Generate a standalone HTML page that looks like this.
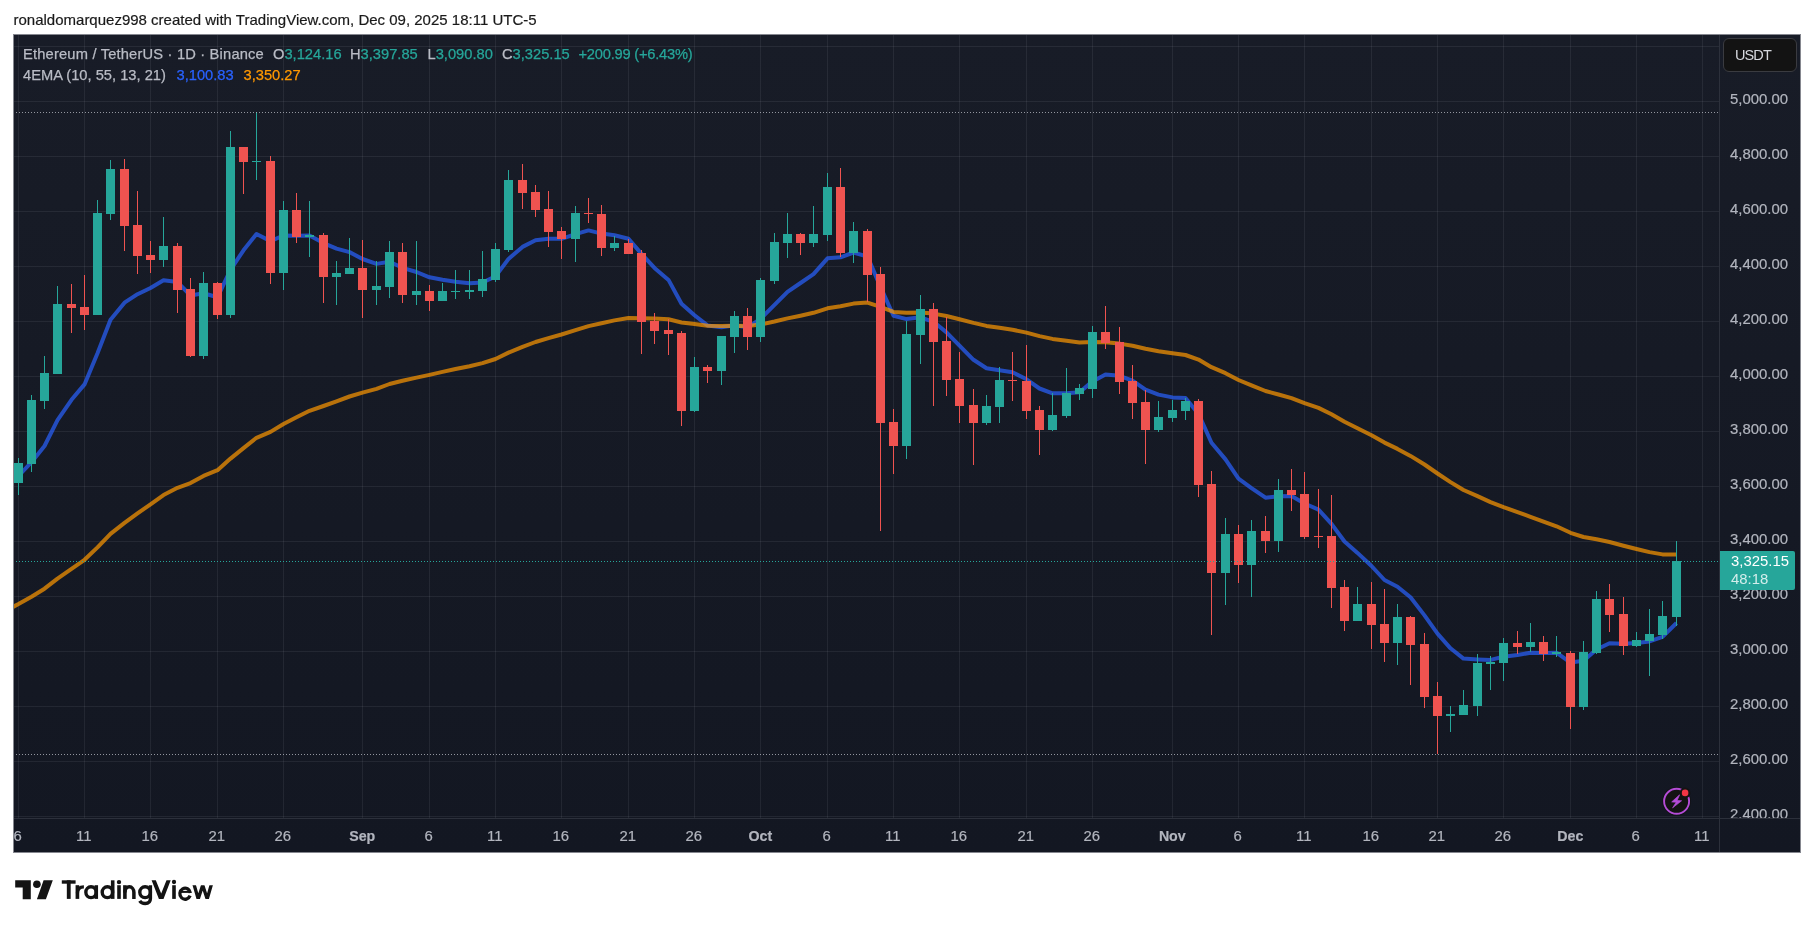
<!DOCTYPE html>
<html><head><meta charset="utf-8"><title>ETHUSDT</title>
<style>
html,body{margin:0;padding:0;background:#fff;}
body{width:1814px;height:928px;position:relative;overflow:hidden;font-family:"Liberation Sans",sans-serif;}
.abs{position:absolute;white-space:nowrap;line-height:1;}
.txt{will-change:transform;}
#chart{position:absolute;left:13px;top:34px;width:1788px;height:819px;box-sizing:border-box;border:1px solid #85878f;background:linear-gradient(#181c27,#131722);}
#svg{position:absolute;left:0;top:0;}
.hdr{left:13.5px;top:12px;font-size:15px;color:#1a1a1a;-webkit-text-stroke:0.2px;}
.lg{font-size:14.7px;color:#b9bcc5;-webkit-text-stroke:0.25px;}
.pl{font-size:14.9px;color:#b2b5be;left:1730px;-webkit-text-stroke:0.2px;}
.tl{font-size:14.9px;color:#b2b5be;-webkit-text-stroke:0.2px;top:829px;transform:translateX(-50%);}
.tl.b{font-weight:700;font-size:14.2px;margin-left:0.6px;margin-top:0.4px;}
.g{color:#26a69a;}
</style></head><body>
<div id="chart"></div>
<svg id="svg" width="1814" height="928" viewBox="0 0 1814 928" shape-rendering="auto">
<g fill="rgba(240,243,250,0.07)"><rect x="14" y="46" width="1705" height="1"/><rect x="14" y="101" width="1705" height="1"/><rect x="14" y="156" width="1705" height="1"/><rect x="14" y="211" width="1705" height="1"/><rect x="14" y="266" width="1705" height="1"/><rect x="14" y="321" width="1705" height="1"/><rect x="14" y="376" width="1705" height="1"/><rect x="14" y="431" width="1705" height="1"/><rect x="14" y="486" width="1705" height="1"/><rect x="14" y="541" width="1705" height="1"/><rect x="14" y="596" width="1705" height="1"/><rect x="14" y="651" width="1705" height="1"/><rect x="14" y="706" width="1705" height="1"/><rect x="14" y="761" width="1705" height="1"/><rect x="14" y="816" width="1705" height="1"/><rect x="18" y="35" width="1" height="783"/><rect x="84" y="35" width="1" height="783"/><rect x="150" y="35" width="1" height="783"/><rect x="217" y="35" width="1" height="783"/><rect x="283" y="35" width="1" height="783"/><rect x="362" y="35" width="1" height="783"/><rect x="429" y="35" width="1" height="783"/><rect x="495" y="35" width="1" height="783"/><rect x="561" y="35" width="1" height="783"/><rect x="628" y="35" width="1" height="783"/><rect x="694" y="35" width="1" height="783"/><rect x="760" y="35" width="1" height="783"/><rect x="827" y="35" width="1" height="783"/><rect x="893" y="35" width="1" height="783"/><rect x="959" y="35" width="1" height="783"/><rect x="1026" y="35" width="1" height="783"/><rect x="1092" y="35" width="1" height="783"/><rect x="1172" y="35" width="1" height="783"/><rect x="1238" y="35" width="1" height="783"/><rect x="1304" y="35" width="1" height="783"/><rect x="1371" y="35" width="1" height="783"/><rect x="1437" y="35" width="1" height="783"/><rect x="1503" y="35" width="1" height="783"/><rect x="1570" y="35" width="1" height="783"/><rect x="1636" y="35" width="1" height="783"/><rect x="1702" y="35" width="1" height="783"/></g>
<clipPath id="cp"><rect x="14" y="35" width="1705" height="783"/></clipPath>
<g clip-path="url(#cp)">
<path d="M4.7,489.8 L18.5,476.0 L31.5,462.2 L44.5,446.0 L57.5,420.2 L71.5,399.8 L84.5,384.4 L97.5,353.2 L110.5,319.7 L124.5,302.7 L137.5,294.2 L150.5,288.0 L163.5,280.3 L177.5,282.1 L190.5,295.5 L203.5,293.3 L217.5,297.2 L230.5,269.9 L243.5,250.3 L256.5,234.0 L270.5,241.1 L283.5,235.5 L296.5,235.7 L309.5,235.6 L323.5,243.1 L336.5,248.6 L349.5,252.1 L362.5,259.0 L376.5,263.9 L389.5,261.7 L402.5,267.8 L416.5,272.0 L429.5,277.3 L442.5,279.8 L455.5,281.8 L469.5,283.3 L482.5,282.5 L495.5,276.4 L508.5,258.9 L522.5,246.9 L535.5,240.2 L548.5,238.7 L561.5,238.8 L575.5,234.1 L588.5,230.4 L601.5,233.6 L614.5,235.3 L628.5,238.7 L641.5,253.9 L654.5,267.9 L668.5,279.9 L681.5,303.7 L694.5,315.2 L707.5,325.4 L721.5,327.3 L734.5,325.3 L747.5,327.4 L760.5,318.8 L774.5,304.8 L787.5,291.9 L800.5,283.0 L813.5,274.1 L827.5,258.3 L840.5,257.3 L853.5,252.5 L867.5,256.6 L880.5,286.9 L893.5,315.8 L906.5,319.1 L920.5,317.3 L933.5,321.8 L946.5,332.4 L959.5,345.7 L973.5,359.8 L986.5,368.2 L999.5,370.3 L1012.5,372.3 L1026.5,379.3 L1039.5,388.5 L1052.5,393.3 L1066.5,393.3 L1079.5,392.3 L1092.5,381.4 L1105.5,374.4 L1119.5,375.8 L1132.5,380.7 L1145.5,389.7 L1158.5,394.6 L1172.5,397.4 L1185.5,398.1 L1198.5,413.9 L1211.5,442.8 L1225.5,459.4 L1238.5,478.6 L1251.5,488.1 L1265.5,497.7 L1278.5,496.3 L1291.5,496.1 L1304.5,503.5 L1318.5,509.6 L1331.5,523.9 L1344.5,541.5 L1357.5,552.9 L1371.5,566.0 L1384.5,580.0 L1397.5,586.7 L1410.5,597.3 L1424.5,615.4 L1437.5,633.7 L1450.5,648.3 L1463.5,658.6 L1477.5,659.4 L1490.5,659.9 L1503.5,656.8 L1517.5,655.0 L1530.5,652.7 L1543.5,652.9 L1556.5,652.7 L1570.5,662.6 L1583.5,660.7 L1596.5,649.5 L1609.5,643.2 L1623.5,643.7 L1636.5,643.0 L1649.5,641.4 L1662.5,636.8 L1676.5,623.0" fill="none" stroke="#2962ff" stroke-width="4" stroke-opacity="0.7" stroke-linejoin="round" stroke-linecap="butt"/>
<path d="M4.7,611.3 L18.5,604.0 L31.5,596.7 L44.5,588.7 L57.5,578.6 L71.5,568.9 L84.5,559.8 L97.5,547.4 L110.5,533.9 L124.5,522.9 L137.5,513.4 L150.5,504.3 L163.5,495.1 L177.5,487.8 L190.5,483.1 L203.5,475.9 L217.5,470.2 L230.5,458.6 L243.5,448.1 L256.5,437.8 L270.5,431.9 L283.5,424.0 L296.5,417.3 L309.5,410.8 L323.5,406.0 L336.5,401.3 L349.5,396.5 L362.5,392.7 L376.5,388.9 L389.5,384.0 L402.5,380.8 L416.5,377.6 L429.5,374.9 L442.5,371.9 L455.5,369.0 L469.5,366.2 L482.5,363.1 L495.5,359.0 L508.5,352.6 L522.5,346.9 L535.5,342.0 L548.5,338.1 L561.5,334.5 L575.5,330.2 L588.5,326.1 L601.5,323.3 L614.5,320.4 L628.5,318.0 L641.5,318.2 L654.5,318.6 L668.5,319.2 L681.5,322.5 L694.5,324.0 L707.5,325.7 L721.5,326.1 L734.5,325.7 L747.5,326.1 L760.5,324.5 L774.5,321.5 L787.5,318.4 L800.5,315.7 L813.5,312.8 L827.5,308.3 L840.5,306.3 L853.5,303.6 L867.5,302.6 L880.5,306.9 L893.5,311.9 L906.5,312.7 L920.5,312.5 L933.5,313.6 L946.5,316.0 L959.5,319.2 L973.5,322.9 L986.5,325.9 L999.5,327.8 L1012.5,329.7 L1026.5,332.6 L1039.5,336.1 L1052.5,338.9 L1066.5,340.8 L1079.5,342.5 L1092.5,342.1 L1105.5,342.2 L1119.5,343.6 L1132.5,345.7 L1145.5,348.7 L1158.5,351.2 L1172.5,353.3 L1185.5,355.0 L1198.5,359.6 L1211.5,367.2 L1225.5,373.2 L1238.5,380.0 L1251.5,385.4 L1265.5,391.0 L1278.5,394.5 L1291.5,398.1 L1304.5,403.1 L1318.5,407.9 L1331.5,414.3 L1344.5,421.7 L1357.5,428.2 L1371.5,435.2 L1384.5,442.6 L1397.5,448.9 L1410.5,455.9 L1424.5,464.5 L1437.5,473.5 L1450.5,482.1 L1463.5,490.0 L1477.5,496.2 L1490.5,502.1 L1503.5,507.1 L1517.5,512.1 L1530.5,516.8 L1543.5,521.7 L1556.5,526.3 L1570.5,532.8 L1583.5,537.0 L1596.5,539.3 L1609.5,542.0 L1623.5,545.7 L1636.5,549.0 L1649.5,552.1 L1662.5,554.4 L1676.5,554.6" fill="none" stroke="#ff9800" stroke-width="4" stroke-opacity="0.7" stroke-linejoin="round" stroke-linecap="butt"/>
<rect x="18" y="458" width="1" height="37" fill="#26a69a"/>
<rect x="14" y="463" width="9" height="20" fill="#26a69a"/>
<rect x="31" y="395" width="1" height="77" fill="#26a69a"/>
<rect x="27" y="400" width="9" height="64" fill="#26a69a"/>
<rect x="44" y="356" width="1" height="53" fill="#26a69a"/>
<rect x="40" y="373" width="9" height="28" fill="#26a69a"/>
<rect x="57" y="286" width="1" height="88" fill="#26a69a"/>
<rect x="53" y="304" width="9" height="70" fill="#26a69a"/>
<rect x="71" y="284" width="1" height="49" fill="#ef5350"/>
<rect x="67" y="304" width="9" height="4" fill="#ef5350"/>
<rect x="84" y="275" width="1" height="55" fill="#ef5350"/>
<rect x="80" y="307" width="9" height="8" fill="#ef5350"/>
<rect x="97" y="200" width="1" height="115" fill="#26a69a"/>
<rect x="93" y="213" width="9" height="102" fill="#26a69a"/>
<rect x="110" y="160" width="1" height="60" fill="#26a69a"/>
<rect x="106" y="169" width="9" height="45" fill="#26a69a"/>
<rect x="124" y="159" width="1" height="92" fill="#ef5350"/>
<rect x="120" y="169" width="9" height="57" fill="#ef5350"/>
<rect x="137" y="191" width="1" height="83" fill="#ef5350"/>
<rect x="133" y="225" width="9" height="31" fill="#ef5350"/>
<rect x="150" y="241" width="1" height="32" fill="#ef5350"/>
<rect x="146" y="255" width="9" height="5" fill="#ef5350"/>
<rect x="163" y="217" width="1" height="50" fill="#26a69a"/>
<rect x="159" y="246" width="9" height="14" fill="#26a69a"/>
<rect x="177" y="243" width="1" height="70" fill="#ef5350"/>
<rect x="173" y="246" width="9" height="44" fill="#ef5350"/>
<rect x="190" y="278" width="1" height="79" fill="#ef5350"/>
<rect x="186" y="289" width="9" height="67" fill="#ef5350"/>
<rect x="203" y="272" width="1" height="87" fill="#26a69a"/>
<rect x="199" y="283" width="9" height="73" fill="#26a69a"/>
<rect x="217" y="282" width="1" height="37" fill="#ef5350"/>
<rect x="213" y="283" width="9" height="32" fill="#ef5350"/>
<rect x="230" y="131" width="1" height="187" fill="#26a69a"/>
<rect x="226" y="147" width="9" height="168" fill="#26a69a"/>
<rect x="243" y="147" width="1" height="47" fill="#ef5350"/>
<rect x="239" y="147" width="9" height="15" fill="#ef5350"/>
<rect x="256" y="112" width="1" height="68" fill="#26a69a"/>
<rect x="252" y="161" width="9" height="1" fill="#26a69a"/>
<rect x="270" y="156" width="1" height="128" fill="#ef5350"/>
<rect x="266" y="161" width="9" height="112" fill="#ef5350"/>
<rect x="283" y="201" width="1" height="89" fill="#26a69a"/>
<rect x="279" y="210" width="9" height="63" fill="#26a69a"/>
<rect x="296" y="193" width="1" height="50" fill="#ef5350"/>
<rect x="292" y="210" width="9" height="27" fill="#ef5350"/>
<rect x="309" y="201" width="1" height="56" fill="#26a69a"/>
<rect x="305" y="235" width="9" height="2" fill="#26a69a"/>
<rect x="323" y="233" width="1" height="70" fill="#ef5350"/>
<rect x="319" y="235" width="9" height="42" fill="#ef5350"/>
<rect x="336" y="261" width="1" height="44" fill="#26a69a"/>
<rect x="332" y="273" width="9" height="4" fill="#26a69a"/>
<rect x="349" y="238" width="1" height="36" fill="#26a69a"/>
<rect x="345" y="268" width="9" height="6" fill="#26a69a"/>
<rect x="362" y="240" width="1" height="78" fill="#ef5350"/>
<rect x="358" y="268" width="9" height="22" fill="#ef5350"/>
<rect x="376" y="261" width="1" height="44" fill="#26a69a"/>
<rect x="372" y="286" width="9" height="4" fill="#26a69a"/>
<rect x="389" y="241" width="1" height="57" fill="#26a69a"/>
<rect x="385" y="252" width="9" height="35" fill="#26a69a"/>
<rect x="402" y="243" width="1" height="60" fill="#ef5350"/>
<rect x="398" y="252" width="9" height="43" fill="#ef5350"/>
<rect x="416" y="241" width="1" height="64" fill="#26a69a"/>
<rect x="412" y="291" width="9" height="4" fill="#26a69a"/>
<rect x="429" y="285" width="1" height="26" fill="#ef5350"/>
<rect x="425" y="291" width="9" height="10" fill="#ef5350"/>
<rect x="442" y="283" width="1" height="18" fill="#26a69a"/>
<rect x="438" y="291" width="9" height="10" fill="#26a69a"/>
<rect x="455" y="270" width="1" height="29" fill="#26a69a"/>
<rect x="451" y="291" width="9" height="1" fill="#26a69a"/>
<rect x="469" y="270" width="1" height="29" fill="#26a69a"/>
<rect x="465" y="290" width="9" height="2" fill="#26a69a"/>
<rect x="482" y="251" width="1" height="46" fill="#26a69a"/>
<rect x="478" y="279" width="9" height="12" fill="#26a69a"/>
<rect x="495" y="243" width="1" height="39" fill="#26a69a"/>
<rect x="491" y="249" width="9" height="31" fill="#26a69a"/>
<rect x="508" y="170" width="1" height="82" fill="#26a69a"/>
<rect x="504" y="180" width="9" height="70" fill="#26a69a"/>
<rect x="522" y="164" width="1" height="45" fill="#ef5350"/>
<rect x="518" y="180" width="9" height="13" fill="#ef5350"/>
<rect x="535" y="185" width="1" height="32" fill="#ef5350"/>
<rect x="531" y="192" width="9" height="18" fill="#ef5350"/>
<rect x="548" y="191" width="1" height="56" fill="#ef5350"/>
<rect x="544" y="209" width="9" height="23" fill="#ef5350"/>
<rect x="561" y="227" width="1" height="32" fill="#ef5350"/>
<rect x="557" y="231" width="9" height="8" fill="#ef5350"/>
<rect x="575" y="206" width="1" height="56" fill="#26a69a"/>
<rect x="571" y="213" width="9" height="26" fill="#26a69a"/>
<rect x="588" y="198" width="1" height="25" fill="#ef5350"/>
<rect x="584" y="213" width="9" height="1" fill="#ef5350"/>
<rect x="601" y="205" width="1" height="51" fill="#ef5350"/>
<rect x="597" y="214" width="9" height="34" fill="#ef5350"/>
<rect x="614" y="236" width="1" height="15" fill="#26a69a"/>
<rect x="610" y="243" width="9" height="5" fill="#26a69a"/>
<rect x="628" y="239" width="1" height="15" fill="#ef5350"/>
<rect x="624" y="243" width="9" height="11" fill="#ef5350"/>
<rect x="641" y="250" width="1" height="104" fill="#ef5350"/>
<rect x="637" y="253" width="9" height="69" fill="#ef5350"/>
<rect x="654" y="313" width="1" height="31" fill="#ef5350"/>
<rect x="650" y="321" width="9" height="10" fill="#ef5350"/>
<rect x="668" y="319" width="1" height="36" fill="#ef5350"/>
<rect x="664" y="330" width="9" height="4" fill="#ef5350"/>
<rect x="681" y="331" width="1" height="95" fill="#ef5350"/>
<rect x="677" y="333" width="9" height="78" fill="#ef5350"/>
<rect x="694" y="357" width="1" height="55" fill="#26a69a"/>
<rect x="690" y="367" width="9" height="44" fill="#26a69a"/>
<rect x="707" y="365" width="1" height="18" fill="#ef5350"/>
<rect x="703" y="367" width="9" height="4" fill="#ef5350"/>
<rect x="721" y="336" width="1" height="49" fill="#26a69a"/>
<rect x="717" y="336" width="9" height="35" fill="#26a69a"/>
<rect x="734" y="311" width="1" height="42" fill="#26a69a"/>
<rect x="730" y="316" width="9" height="21" fill="#26a69a"/>
<rect x="747" y="308" width="1" height="42" fill="#ef5350"/>
<rect x="743" y="316" width="9" height="21" fill="#ef5350"/>
<rect x="760" y="278" width="1" height="64" fill="#26a69a"/>
<rect x="756" y="280" width="9" height="57" fill="#26a69a"/>
<rect x="774" y="233" width="1" height="51" fill="#26a69a"/>
<rect x="770" y="242" width="9" height="39" fill="#26a69a"/>
<rect x="787" y="213" width="1" height="45" fill="#26a69a"/>
<rect x="783" y="234" width="9" height="9" fill="#26a69a"/>
<rect x="800" y="233" width="1" height="22" fill="#ef5350"/>
<rect x="796" y="234" width="9" height="9" fill="#ef5350"/>
<rect x="813" y="206" width="1" height="41" fill="#26a69a"/>
<rect x="809" y="234" width="9" height="9" fill="#26a69a"/>
<rect x="827" y="173" width="1" height="68" fill="#26a69a"/>
<rect x="823" y="187" width="9" height="48" fill="#26a69a"/>
<rect x="840" y="168" width="1" height="89" fill="#ef5350"/>
<rect x="836" y="187" width="9" height="66" fill="#ef5350"/>
<rect x="853" y="222" width="1" height="41" fill="#26a69a"/>
<rect x="849" y="231" width="9" height="22" fill="#26a69a"/>
<rect x="867" y="229" width="1" height="73" fill="#ef5350"/>
<rect x="863" y="231" width="9" height="44" fill="#ef5350"/>
<rect x="880" y="267" width="1" height="264" fill="#ef5350"/>
<rect x="876" y="274" width="9" height="149" fill="#ef5350"/>
<rect x="893" y="409" width="1" height="65" fill="#ef5350"/>
<rect x="889" y="422" width="9" height="24" fill="#ef5350"/>
<rect x="906" y="321" width="1" height="138" fill="#26a69a"/>
<rect x="902" y="334" width="9" height="112" fill="#26a69a"/>
<rect x="920" y="295" width="1" height="69" fill="#26a69a"/>
<rect x="916" y="309" width="9" height="26" fill="#26a69a"/>
<rect x="933" y="303" width="1" height="103" fill="#ef5350"/>
<rect x="929" y="309" width="9" height="33" fill="#ef5350"/>
<rect x="946" y="317" width="1" height="79" fill="#ef5350"/>
<rect x="942" y="341" width="9" height="39" fill="#ef5350"/>
<rect x="959" y="352" width="1" height="71" fill="#ef5350"/>
<rect x="955" y="379" width="9" height="27" fill="#ef5350"/>
<rect x="973" y="389" width="1" height="76" fill="#ef5350"/>
<rect x="969" y="405" width="9" height="18" fill="#ef5350"/>
<rect x="986" y="395" width="1" height="30" fill="#26a69a"/>
<rect x="982" y="406" width="9" height="17" fill="#26a69a"/>
<rect x="999" y="367" width="1" height="56" fill="#26a69a"/>
<rect x="995" y="380" width="9" height="27" fill="#26a69a"/>
<rect x="1012" y="352" width="1" height="49" fill="#ef5350"/>
<rect x="1008" y="380" width="9" height="1" fill="#ef5350"/>
<rect x="1026" y="345" width="1" height="74" fill="#ef5350"/>
<rect x="1022" y="381" width="9" height="30" fill="#ef5350"/>
<rect x="1039" y="406" width="1" height="49" fill="#ef5350"/>
<rect x="1035" y="410" width="9" height="20" fill="#ef5350"/>
<rect x="1052" y="393" width="1" height="38" fill="#26a69a"/>
<rect x="1048" y="415" width="9" height="15" fill="#26a69a"/>
<rect x="1066" y="368" width="1" height="50" fill="#26a69a"/>
<rect x="1062" y="393" width="9" height="23" fill="#26a69a"/>
<rect x="1079" y="384" width="1" height="16" fill="#26a69a"/>
<rect x="1075" y="388" width="9" height="6" fill="#26a69a"/>
<rect x="1092" y="326" width="1" height="72" fill="#26a69a"/>
<rect x="1088" y="332" width="9" height="57" fill="#26a69a"/>
<rect x="1105" y="306" width="1" height="43" fill="#ef5350"/>
<rect x="1101" y="332" width="9" height="11" fill="#ef5350"/>
<rect x="1119" y="327" width="1" height="67" fill="#ef5350"/>
<rect x="1115" y="342" width="9" height="40" fill="#ef5350"/>
<rect x="1132" y="365" width="1" height="54" fill="#ef5350"/>
<rect x="1128" y="381" width="9" height="22" fill="#ef5350"/>
<rect x="1145" y="390" width="1" height="74" fill="#ef5350"/>
<rect x="1141" y="402" width="9" height="28" fill="#ef5350"/>
<rect x="1158" y="401" width="1" height="31" fill="#26a69a"/>
<rect x="1154" y="417" width="9" height="13" fill="#26a69a"/>
<rect x="1172" y="400" width="1" height="22" fill="#26a69a"/>
<rect x="1168" y="410" width="9" height="8" fill="#26a69a"/>
<rect x="1185" y="398" width="1" height="22" fill="#26a69a"/>
<rect x="1181" y="401" width="9" height="10" fill="#26a69a"/>
<rect x="1198" y="399" width="1" height="98" fill="#ef5350"/>
<rect x="1194" y="401" width="9" height="84" fill="#ef5350"/>
<rect x="1211" y="471" width="1" height="164" fill="#ef5350"/>
<rect x="1207" y="484" width="9" height="89" fill="#ef5350"/>
<rect x="1225" y="518" width="1" height="87" fill="#26a69a"/>
<rect x="1221" y="534" width="9" height="39" fill="#26a69a"/>
<rect x="1238" y="525" width="1" height="58" fill="#ef5350"/>
<rect x="1234" y="534" width="9" height="31" fill="#ef5350"/>
<rect x="1251" y="520" width="1" height="77" fill="#26a69a"/>
<rect x="1247" y="531" width="9" height="34" fill="#26a69a"/>
<rect x="1265" y="516" width="1" height="37" fill="#ef5350"/>
<rect x="1261" y="531" width="9" height="10" fill="#ef5350"/>
<rect x="1278" y="479" width="1" height="73" fill="#26a69a"/>
<rect x="1274" y="490" width="9" height="51" fill="#26a69a"/>
<rect x="1291" y="469" width="1" height="42" fill="#ef5350"/>
<rect x="1287" y="490" width="9" height="5" fill="#ef5350"/>
<rect x="1304" y="472" width="1" height="67" fill="#ef5350"/>
<rect x="1300" y="494" width="9" height="43" fill="#ef5350"/>
<rect x="1318" y="489" width="1" height="59" fill="#ef5350"/>
<rect x="1314" y="536" width="9" height="1" fill="#ef5350"/>
<rect x="1331" y="495" width="1" height="113" fill="#ef5350"/>
<rect x="1327" y="536" width="9" height="52" fill="#ef5350"/>
<rect x="1344" y="580" width="1" height="51" fill="#ef5350"/>
<rect x="1340" y="587" width="9" height="34" fill="#ef5350"/>
<rect x="1357" y="587" width="1" height="34" fill="#26a69a"/>
<rect x="1353" y="604" width="9" height="17" fill="#26a69a"/>
<rect x="1371" y="582" width="1" height="67" fill="#ef5350"/>
<rect x="1367" y="604" width="9" height="21" fill="#ef5350"/>
<rect x="1384" y="589" width="1" height="73" fill="#ef5350"/>
<rect x="1380" y="624" width="9" height="19" fill="#ef5350"/>
<rect x="1397" y="604" width="1" height="61" fill="#26a69a"/>
<rect x="1393" y="617" width="9" height="26" fill="#26a69a"/>
<rect x="1410" y="616" width="1" height="69" fill="#ef5350"/>
<rect x="1406" y="617" width="9" height="28" fill="#ef5350"/>
<rect x="1424" y="633" width="1" height="75" fill="#ef5350"/>
<rect x="1420" y="644" width="9" height="53" fill="#ef5350"/>
<rect x="1437" y="682" width="1" height="72" fill="#ef5350"/>
<rect x="1433" y="696" width="9" height="20" fill="#ef5350"/>
<rect x="1450" y="706" width="1" height="26" fill="#26a69a"/>
<rect x="1446" y="714" width="9" height="2" fill="#26a69a"/>
<rect x="1463" y="690" width="1" height="25" fill="#26a69a"/>
<rect x="1459" y="705" width="9" height="10" fill="#26a69a"/>
<rect x="1477" y="654" width="1" height="62" fill="#26a69a"/>
<rect x="1473" y="663" width="9" height="43" fill="#26a69a"/>
<rect x="1490" y="656" width="1" height="34" fill="#26a69a"/>
<rect x="1486" y="662" width="9" height="2" fill="#26a69a"/>
<rect x="1503" y="638" width="1" height="43" fill="#26a69a"/>
<rect x="1499" y="643" width="9" height="20" fill="#26a69a"/>
<rect x="1517" y="631" width="1" height="23" fill="#ef5350"/>
<rect x="1513" y="643" width="9" height="4" fill="#ef5350"/>
<rect x="1530" y="623" width="1" height="29" fill="#26a69a"/>
<rect x="1526" y="642" width="9" height="5" fill="#26a69a"/>
<rect x="1543" y="636" width="1" height="25" fill="#ef5350"/>
<rect x="1539" y="642" width="9" height="12" fill="#ef5350"/>
<rect x="1556" y="636" width="1" height="21" fill="#26a69a"/>
<rect x="1552" y="652" width="9" height="2" fill="#26a69a"/>
<rect x="1570" y="651" width="1" height="78" fill="#ef5350"/>
<rect x="1566" y="653" width="9" height="54" fill="#ef5350"/>
<rect x="1583" y="641" width="1" height="69" fill="#26a69a"/>
<rect x="1579" y="652" width="9" height="55" fill="#26a69a"/>
<rect x="1596" y="591" width="1" height="63" fill="#26a69a"/>
<rect x="1592" y="599" width="9" height="54" fill="#26a69a"/>
<rect x="1609" y="584" width="1" height="48" fill="#ef5350"/>
<rect x="1605" y="599" width="9" height="16" fill="#ef5350"/>
<rect x="1623" y="597" width="1" height="58" fill="#ef5350"/>
<rect x="1619" y="614" width="9" height="32" fill="#ef5350"/>
<rect x="1636" y="632" width="1" height="15" fill="#26a69a"/>
<rect x="1632" y="640" width="9" height="6" fill="#26a69a"/>
<rect x="1649" y="609" width="1" height="67" fill="#26a69a"/>
<rect x="1645" y="634" width="9" height="7" fill="#26a69a"/>
<rect x="1662" y="601" width="1" height="38" fill="#26a69a"/>
<rect x="1658" y="616" width="9" height="19" fill="#26a69a"/>
<rect x="1676" y="541" width="1" height="85" fill="#26a69a"/>
<rect x="1672" y="561" width="9" height="56" fill="#26a69a"/>
</g>
<line x1="16" x2="1719" y1="112.5" y2="112.5" stroke="#b2b5be" stroke-width="1" stroke-dasharray="1 2" opacity="0.8"/>
<line x1="16" x2="1719" y1="754.5" y2="754.5" stroke="#b2b5be" stroke-width="1" stroke-dasharray="1 2" opacity="0.8"/>
<line x1="16" x2="1719" y1="561.5" y2="561.5" stroke="#26a69a" stroke-width="1" stroke-dasharray="1 2" opacity="1"/>
<rect x="1719" y="35" width="1" height="817" fill="#2c303b"/>
<rect x="14" y="818" width="1786" height="1" fill="#2c303b"/>
<g transform="translate(1676.6,801.3)">
<circle r="14.3" fill="#111216"/>
<circle r="12.5" fill="#131313" stroke="#b44cd7" stroke-width="1.9"/>
<path d="M3.0,-6.5 L-4.9,0.6 L-0.35,0.86 L-4.0,6.55 L5.0,-0.56 L0.5,-0.78 Z" fill="#b44cd7" stroke="#b44cd7" stroke-width="0.7" stroke-linejoin="round"/>
<circle cx="8.5" cy="-8.4" r="5.3" fill="#131313"/>
<circle cx="8.5" cy="-8.4" r="3.3" fill="#f23645"/>
</g>
<clipPath id="xh"><rect x="188" y="885.2" width="30" height="13.7"/></clipPath>
<g id="wm" fill="none" stroke="#131313" stroke-width="3.6" stroke-linecap="butt" stroke-linejoin="miter">
<path d="M61.8,882H75.6" stroke-width="3.4"/><path d="M68.75,880.3V898.9" stroke-width="3.85"/>
<path d="M77.4,885.2V898.9" stroke-width="3.65"/><path d="M77.4,893.2Q77.4,886.8 83.9,886.8" stroke-width="3.2"/>
<ellipse cx="91" cy="892.2" rx="5.15" ry="5.4" stroke-width="3.4"/><path d="M96.3,885.2V898.9" stroke-width="3.5"/>
<ellipse cx="107.4" cy="892.2" rx="5.2" ry="5.4" stroke-width="3.4"/><path d="M112.7,880.3V898.9"/>
<path d="M119,885.2V898.9"/><circle cx="119" cy="882.1" r="2.2" fill="#131313" stroke="none"/>
<path d="M124.9,885.2V898.9"/><path d="M124.9,892.5a4.5,5.7 0 0 1 9,0V898.9" stroke-width="3.5"/>
<ellipse cx="145.1" cy="892.2" rx="5.3" ry="5.4" stroke-width="3.4"/><path d="M150.4,885.2V898.6Q150.4,903.5 145.2,903.5Q141.4,903.5 139.7,900.8" stroke-width="3.4"/>
<path d="M151.6,880.3H155.8L161.2,893.5L166.5,880.3H170.7L163.5,898.9H158.9Z" fill="#131313" stroke="none"/>
<path d="M174,885.2V898.9"/><circle cx="174" cy="882" r="2.15" fill="#131313" stroke="none"/>
<path d="M180,891.9H190.6" stroke-width="2"/><path d="M190.4,892.9A5.3,5.5 0 1 0 190.1,895.7" stroke-width="3.3"/>
<path d="M193.76,883.5L198.2,898.9L202.7,885.2L207.2,898.9L211.64,883.5" stroke-width="3.35" clip-path="url(#xh)"/>
</g>

</svg>

<div id="textlayer" class="txt" style="position:absolute;left:0;top:0;width:1814px;height:928px;">
<div class="abs hdr" id="hdr">ronaldomarquez998 created with TradingView.com, Dec 09, 2025 18:11 UTC-5</div>
<div class="abs lg" id="l1" style="left:23px;top:47px;letter-spacing:0.18px;">Ethereum / TetherUS · 1D · Binance</div>
<div class="abs lg" id="l_o" style="left:273px;top:47px;">O<span class="g">3,124.16</span></div>
<div class="abs lg" id="l_h" style="left:350px;top:47px;">H<span class="g">3,397.85</span></div>
<div class="abs lg" id="l_l" style="left:427.5px;top:47px;">L<span class="g">3,090.80</span></div>
<div class="abs lg" id="l_c" style="left:502px;top:47px;">C<span class="g">3,325.15</span></div>
<div class="abs lg g" id="l_ch" style="left:578.5px;top:47px;letter-spacing:-0.23px;">+200.99 (+6.43%)</div>
<div class="abs lg" id="l2" style="left:23px;top:68px;">4EMA (10, 55, 13, 21)</div>
<div class="abs lg" id="l2a" style="left:176.5px;top:68px;color:#2962ff;">3,100.83</div>
<div class="abs lg" id="l2b" style="left:243.5px;top:68px;color:#ff9800;">3,350.27</div>
<div style="position:absolute;left:1720px;top:35px;width:80px;height:783px;overflow:hidden;">
<div class="abs pl" style="left:10px;top:57px;">5,000.00</div>
<div class="abs pl" style="left:10px;top:112px;">4,800.00</div>
<div class="abs pl" style="left:10px;top:167px;">4,600.00</div>
<div class="abs pl" style="left:10px;top:222px;">4,400.00</div>
<div class="abs pl" style="left:10px;top:277px;">4,200.00</div>
<div class="abs pl" style="left:10px;top:332px;">4,000.00</div>
<div class="abs pl" style="left:10px;top:387px;">3,800.00</div>
<div class="abs pl" style="left:10px;top:442px;">3,600.00</div>
<div class="abs pl" style="left:10px;top:497px;">3,400.00</div>
<div class="abs pl" style="left:10px;top:552px;">3,200.00</div>
<div class="abs pl" style="left:10px;top:607px;">3,000.00</div>
<div class="abs pl" style="left:10px;top:662px;">2,800.00</div>
<div class="abs pl" style="left:10px;top:717px;">2,600.00</div>
<div class="abs pl" style="left:10px;top:772px;">2,400.00</div>
</div>
<div class="abs" id="usdt" style="left:1723px;top:38px;width:74px;height:34px;box-sizing:border-box;border:1px solid #3a3b40;border-radius:6px;background:#131313;"><span class="abs" style="left:11px;top:9px;font-size:14.5px;letter-spacing:-0.9px;color:#d6d8de;">USDT</span></div>
<div class="abs" id="ptag" style="left:1720px;top:551px;width:75px;height:39px;background:#26a69a;border-radius:0 2px 2px 0;"><span class="abs" style="left:11px;top:3px;font-size:14.9px;color:#fff;">3,325.15</span><span class="abs" style="left:11px;top:21px;font-size:14.9px;color:rgba(255,255,255,.8);">48:18</span></div>
<div class="abs tl" style="left:17.7px;">6</div>
<div class="abs tl" style="left:83.7px;">11</div>
<div class="abs tl" style="left:149.7px;">16</div>
<div class="abs tl" style="left:216.7px;">21</div>
<div class="abs tl" style="left:282.7px;">26</div>
<div class="abs tl b" style="left:361.7px;">Sep</div>
<div class="abs tl" style="left:428.7px;">6</div>
<div class="abs tl" style="left:494.7px;">11</div>
<div class="abs tl" style="left:560.7px;">16</div>
<div class="abs tl" style="left:627.7px;">21</div>
<div class="abs tl" style="left:693.7px;">26</div>
<div class="abs tl b" style="left:759.7px;">Oct</div>
<div class="abs tl" style="left:826.7px;">6</div>
<div class="abs tl" style="left:892.7px;">11</div>
<div class="abs tl" style="left:958.7px;">16</div>
<div class="abs tl" style="left:1025.7px;">21</div>
<div class="abs tl" style="left:1091.7px;">26</div>
<div class="abs tl b" style="left:1171.7px;">Nov</div>
<div class="abs tl" style="left:1237.7px;">6</div>
<div class="abs tl" style="left:1303.7px;">11</div>
<div class="abs tl" style="left:1370.7px;">16</div>
<div class="abs tl" style="left:1436.7px;">21</div>
<div class="abs tl" style="left:1502.7px;">26</div>
<div class="abs tl b" style="left:1569.7px;">Dec</div>
<div class="abs tl" style="left:1635.7px;">6</div>
<div class="abs tl" style="left:1701.7px;">11</div>
<svg class="abs" id="logo" style="left:0;top:860px;" width="60" height="60" viewBox="0 860 60 60"><path d="M15.2 880.3H30.8V899.2H22.7V887.6H15.2Z M43.6 880.3H52.8L45.9 899.2H36.9Z" fill="#131313"/><circle cx="36.9" cy="884.2" r="3.8" fill="#131313"/></svg>

</div>
</body></html>
